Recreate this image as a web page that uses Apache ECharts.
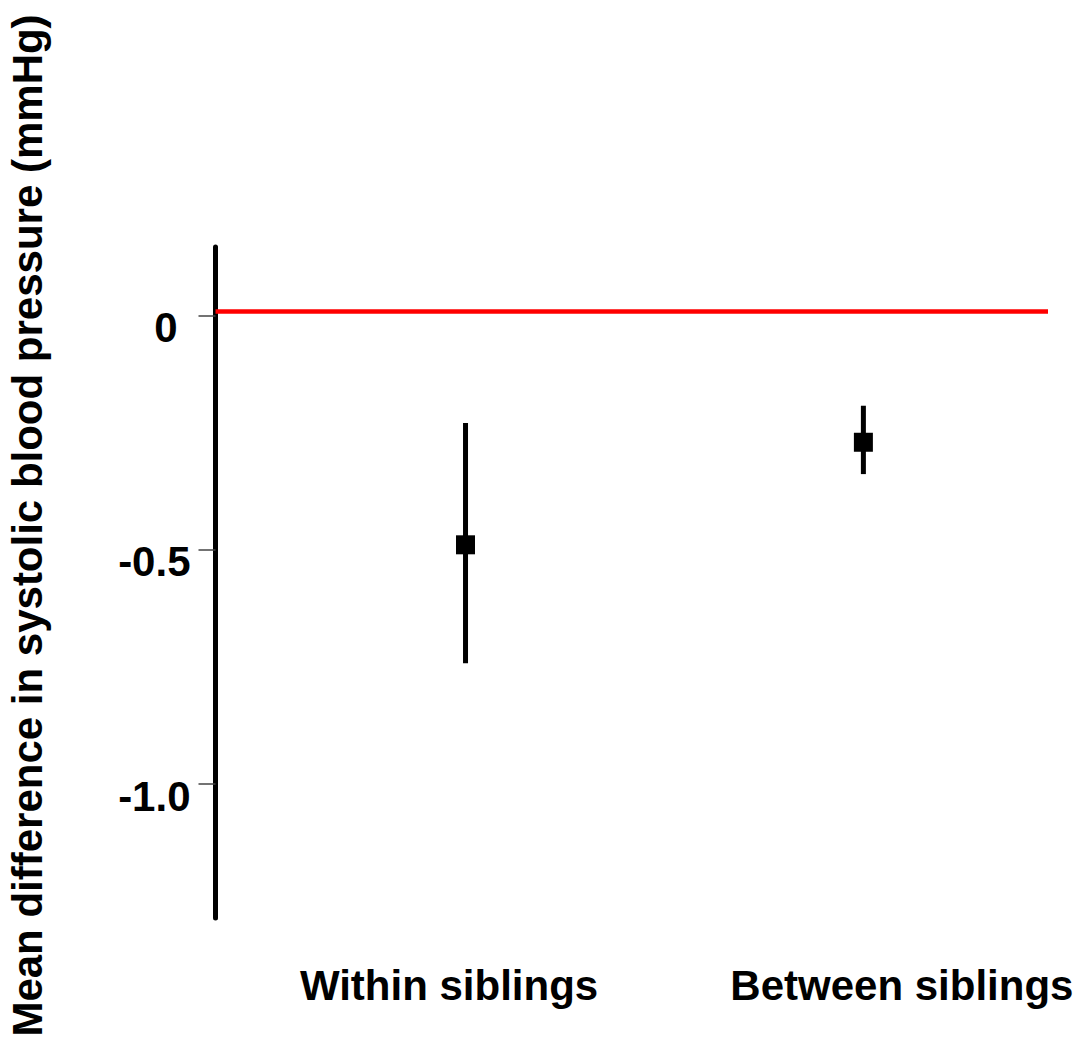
<!DOCTYPE html>
<html>
<head>
<meta charset="utf-8">
<script src="https://cdn.jsdelivr.net/npm/echarts@6/dist/echarts.min.js"></script>
<style>html,body{margin:0;padding:0;background:#fff;}#c{width:1082px;height:1047px;}</style>
</head>
<body>
<div id="c"></div>
<script>
const categories = ['Within siblings', 'Between siblings'];
const means = [-0.489, -0.270];
const lower = [-0.742, -0.338];
const upper = [-0.229, -0.192];
const yTicks = [0, -0.5, -1.0];
const yTickLabels = ['0', '-0.5', '-1.0'];
const refLine = 0.01;
const yTitle = 'Mean difference in systolic blood pressure (mmHg)';

const FONT = '"Liberation Sans", Arial, Helvetica, sans-serif';
const pts = categories.map((c, i) => [i + 1, means[i], lower[i], upper[i]]);

const chart = echarts.init(document.getElementById('c'), null, {renderer: 'svg'});
chart.setOption({
  animation: false,
  backgroundColor: '#fff',
  grid: {left: 215.5, right: 34, top: 247, bottom: 129, containLabel: false, outerBoundsMode: 'none'},
  xAxis: {
    type: 'value', min: 0.3716, max: 2.464,
    axisLine: {show: false}, axisTick: {show: false}, splitLine: {show: false},
    axisLabel: {
      customValues: categories.map((c, i) => i + 1),
      margin: 46,
      formatter: v => {
        const i = Math.round(v) - 1;
        return i === 0 ? '{w|' + categories[0] + '}' : '{b|' + categories[1] + '}';
      },
      rich: {
        w: {fontFamily: FONT, fontWeight: 'bold', fontSize: 42, color: '#000', padding: [0, 33, 0, 0]},
        b: {fontFamily: FONT, fontWeight: 'bold', fontSize: 42, color: '#000', padding: [0, 0, 0, 77]}
      }
    }
  },
  yAxis: {
    type: 'value', min: -1.286, max: 0.147,
    name: yTitle, nameLocation: 'middle', nameRotate: 90, nameGap: 167,
    nameTextStyle: {fontFamily: FONT, fontWeight: 'bold', fontSize: 42, color: '#000', padding: [0, 0, 0, 114]},
    axisLine: {show: true, lineStyle: {color: '#000', width: 5}},
    axisTick: {show: true, customValues: yTicks, length: 17, lineStyle: {color: '#444', width: 1.5}},
    splitLine: {show: false},
    axisLabel: {
      customValues: yTicks,
      margin: 25,
      formatter: v => {
        const i = yTicks.findIndex(t => Math.abs(t - v) < 1e-6);
        const s = yTickLabels[i];
        return s === '0' ? '{z|' + s + '}' : '{n|' + s + '}';
      },
      rich: {
        z: {fontFamily: FONT, fontWeight: 'bold', fontSize: 42, color: '#000', padding: [24, 13, 0, 0]},
        n: {fontFamily: FONT, fontWeight: 'bold', fontSize: 42, color: '#000', padding: [24, 0, 0, 0]}
      }
    }
  },
  series: [
    {
      type: 'line', data: [], silent: true,
      markLine: {
        silent: true, symbol: 'none', label: {show: false},
        lineStyle: {color: '#ff0000', width: 4.5, type: 'solid'},
        data: [{yAxis: refLine}]
      }
    },
    {
      type: 'custom',
      data: pts,
      encode: {x: 0, y: 1},
      renderItem: (params, api) => {
        const x = api.value(0);
        const c = api.coord([x, api.value(1)]);
        const lo = api.coord([x, api.value(2)]);
        const hi = api.coord([x, api.value(3)]);
        const s = 19;
        return {
          type: 'group',
          children: [
            {type: 'line', shape: {x1: c[0], y1: lo[1], x2: c[0], y2: hi[1]}, style: {stroke: '#000', lineWidth: 5}},
            {type: 'rect', shape: {x: c[0] - s / 2, y: c[1] - s / 2, width: s, height: s}, style: {fill: '#000'}}
          ]
        };
      }
    }
  ]
});
</script>
</body>
</html>
